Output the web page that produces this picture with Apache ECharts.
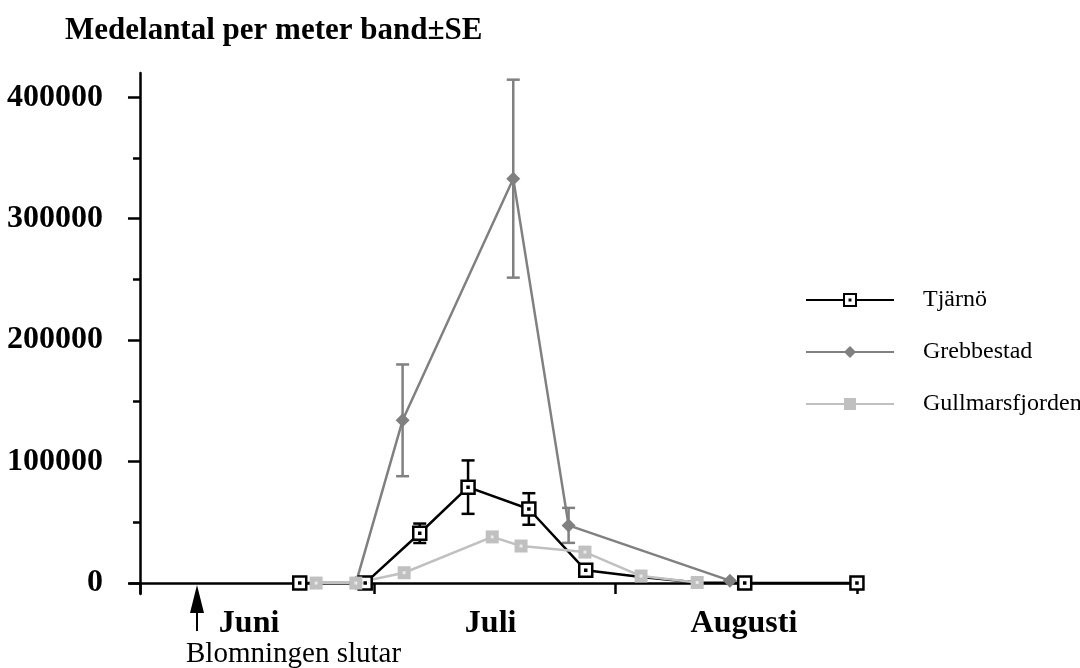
<!DOCTYPE html>
<html>
<head>
<meta charset="utf-8">
<script src="https://cdn.jsdelivr.net/npm/echarts@6/dist/echarts.min.js"></script>
<style>
html,body{margin:0;padding:0;background:#fff;}
#chart{width:1080px;height:668px;}
</style>
</head>
<body>
<div id="chart"></div>
<script>
// ---- data (x = days since 1 June) ----
const monthNames = ['Juni', 'Juli', 'Augusti'];
const monthStartDays = [0, 30, 61, 92];
const monthLabelDays = [14, 45, 77.5];
const yTickValues = [0, 100000, 200000, 300000, 400000];
const yMinorTickValues = [50000, 150000, 250000, 350000];

const tjarnoDays = [20.5, 28.9, 35.9, 42.1, 49.9, 57.2, 64.3, 71.5, 77.6, 92.0];
const tjarnoMean = [0, 0, 41000, 79000, 61000, 10500, 5000, 500, 0, 0];
const tjarnoSE   = [0, 0, 8000, 22000, 13000, 0, 0, 0, 0, 0];
const tjarnoHiddenMarker = [6, 7];

const grebbDays = [27.7, 33.7, 47.9, 55.0, 75.7];
const grebbMean = [0, 134000, 333000, 47500, 2000];
const grebbSE   = [0, 46000, 81500, 14400, 0];

const gullDays = [22.6, 27.7, 33.9, 45.2, 48.9, 57.1, 64.3, 71.5];
const gullMean = [0, 0, 8500, 38000, 30500, 25500, 5800, 500];

const FONT = '"Liberation Serif", "Times New Roman", serif';
const LW = 2.5;

function pairs(xs, ys) { return xs.map((x, i) => [x, ys[i]]); }
function errData(xs, ys, se) {
  const out = [];
  xs.forEach((x, i) => { if (se[i] > 0) out.push([x, ys[i] - se[i], ys[i] + se[i]]); });
  return out;
}
function errSeries(data, color) {
  return {
    type: 'custom', silent: true, z: 1,
    data: data,
    encode: { x: 0, y: [1, 2] },
    renderItem: function (params, api) {
      const x = api.value(0);
      const lo = api.coord([x, api.value(1)]);
      const hi = api.coord([x, api.value(2)]);
      const hw = 6.5;
      const st = { stroke: color, lineWidth: LW };
      return { type: 'group', children: [
        { type: 'line', shape: { x1: lo[0], y1: lo[1], x2: hi[0], y2: hi[1] }, style: st },
        { type: 'line', shape: { x1: hi[0] - hw, y1: hi[1], x2: hi[0] + hw, y2: hi[1] }, style: st },
        { type: 'line', shape: { x1: lo[0] - hw, y1: lo[1], x2: lo[0] + hw, y2: lo[1] }, style: st }
      ]};
    }
  };
}

const tjarnoData = tjarnoDays.map((x, i) => {
  const item = { value: [x, tjarnoMean[i]] };
  if (tjarnoHiddenMarker.indexOf(i) >= 0) item.symbol = 'none';
  return item;
});

const chart = echarts.init(document.getElementById('chart'), null, { renderer: 'canvas' });
chart.setOption({
  backgroundColor: '#ffffff',
  animation: false,
  title: {
    text: 'Medelantal per meter band±SE',
    left: 60, top: 10,
    textStyle: { fontFamily: FONT, fontWeight: 'bold', fontSize: 31, color: '#000' }
  },
  legend: {
    data: ['Tjärnö', 'Grebbestad', 'Gullmarsfjorden'],
    orient: 'vertical',
    left: 800, top: 283,
    itemWidth: 88, itemHeight: 15, itemGap: 28,
    textStyle: { fontFamily: FONT, fontSize: 24, color: '#000', lineHeight: 24, padding: [0, 0, 0, 24] }
  },
  grid: { left: 130, top: 73, width: 732, height: 521 },
  xAxis: {
    type: 'value', min: -1.28, max: 92.65,
    splitLine: { show: false },
    axisLine: { onZero: true, lineStyle: { color: '#000', width: LW } },
    axisTick: { customValues: monthStartDays, length: 11, lineStyle: { color: '#000', width: LW } },
    axisLabel: {
      customValues: monthLabelDays,
      formatter: function (v) { const i = monthLabelDays.indexOf(v); return i >= 0 ? monthNames[i] : ''; },
      fontFamily: FONT, fontWeight: 'bold', fontSize: 32, color: '#000', margin: 14
    }
  },
  yAxis: [{
    type: 'value', min: -9000, max: 420000,
    splitLine: { show: false },
    axisLine: { show: true, onZero: true, lineStyle: { color: '#000', width: LW } },
    axisTick: { show: true, customValues: yTickValues, length: 12, lineStyle: { color: '#000', width: LW } },
    axisLabel: {
      customValues: yTickValues,
      formatter: function (v) { return String(v); },
      fontFamily: FONT, fontWeight: 'bold', fontSize: 32, color: '#000', margin: 27
    }
  }, {
    type: 'value', min: -9000, max: 420000, position: 'left', offset: -9.97,
    splitLine: { show: false },
    axisLine: { show: false, onZero: false },
    axisTick: { show: true, customValues: yMinorTickValues, length: 7, lineStyle: { color: '#000', width: LW } },
    axisLabel: { show: false }
  }],
  series: [
    errSeries(errData(tjarnoDays, tjarnoMean, tjarnoSE), '#000'),
    errSeries(errData(grebbDays, grebbMean, grebbSE), '#808080'),
    {
      name: 'Tjärnö', type: 'line', z: 2,
      data: tjarnoData,
      symbol: 'path://M0,0L13,0L13,13L0,13Z M6,6L7,6L7,7L6,7Z',
      symbolSize: 13,
      lineStyle: { color: '#000', width: LW },
      itemStyle: { color: '#fff', borderColor: '#000', borderWidth: 2.5 }
    },
    {
      name: 'Grebbestad', type: 'line', z: 2,
      data: pairs(grebbDays, grebbMean),
      symbol: 'diamond', symbolSize: [14, 14],
      lineStyle: { color: '#808080', width: LW },
      itemStyle: { color: '#808080' }
    },
    {
      name: 'Gullmarsfjorden', type: 'line', z: 2,
      data: pairs(gullDays, gullMean),
      symbol: 'rect', symbolSize: 13,
      lineStyle: { color: '#c0c0c0', width: LW },
      itemStyle: { color: '#c0c0c0' }
    },
    {
      name: 'Gullmarsfjorden-dot', type: 'scatter', z: 3, silent: true,
      data: pairs(gullDays, gullMean),
      symbol: 'rect', symbolSize: 3,
      itemStyle: { color: '#f4f4f4' }
    }
  ],
  graphic: [
    { type: 'polygon', shape: { points: [[197, 585], [190, 613], [204, 613]] }, style: { fill: '#000' } },
    { type: 'line', shape: { x1: 197, y1: 610, x2: 197, y2: 631 }, style: { stroke: '#000', lineWidth: 2 } },
    { type: 'text', left: 186, top: 640, style: { text: 'Blomningen slutar', font: '29px ' + FONT, fill: '#000' } }
  ]
});
</script>
</body>
</html>
